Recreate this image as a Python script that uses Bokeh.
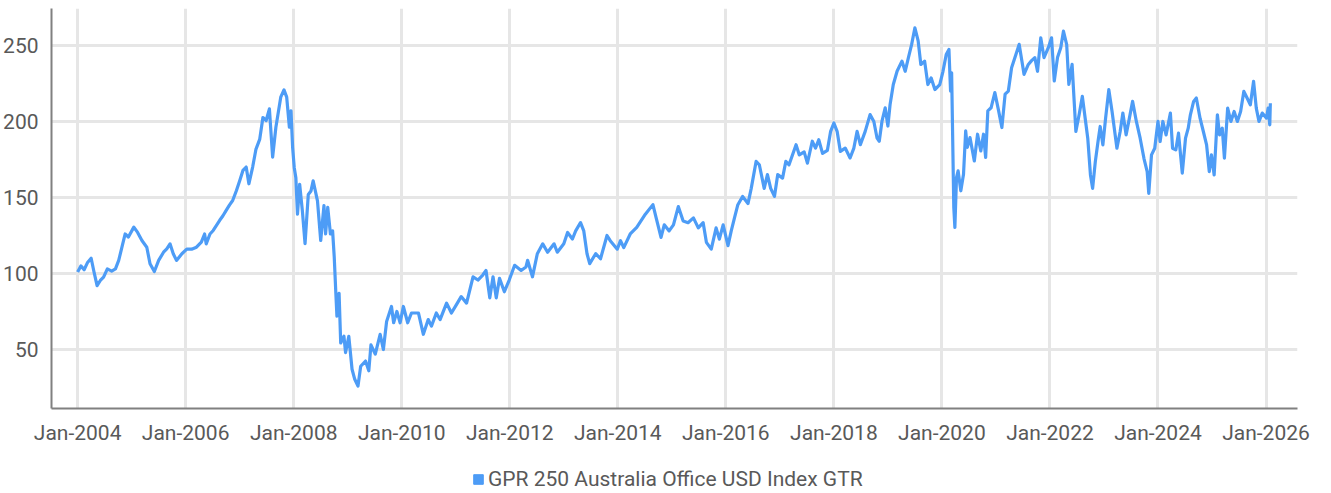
from bokeh.plotting import figure
from bokeh.layouts import column
from bokeh.models import Range1d, FixedTicker, Legend, LegendItem
from bokeh.embed import file_html
from bokeh.resources import INLINE

series_name = "GPR 250 Australia Office USD Index GTR"

years = [
    2004.00, 2004.06, 2004.12, 2004.18, 2004.25, 2004.30, 2004.36, 2004.42, 2004.48, 2004.55,
    2004.63, 2004.70, 2004.76, 2004.82, 2004.88, 2004.94, 2005.04, 2005.11, 2005.19, 2005.28,
    2005.34, 2005.42, 2005.50, 2005.59, 2005.65, 2005.71, 2005.77, 2005.83, 2005.93, 2006.02,
    2006.11, 2006.20, 2006.29, 2006.35, 2006.38, 2006.45, 2006.51, 2006.57, 2006.63, 2006.69,
    2006.75, 2006.81, 2006.87, 2006.94, 2007.00, 2007.06, 2007.12, 2007.17, 2007.24, 2007.30,
    2007.37, 2007.43, 2007.49, 2007.55, 2007.61, 2007.67, 2007.76, 2007.82, 2007.87, 2007.92,
    2007.95, 2007.98, 2008.01, 2008.04, 2008.07, 2008.11, 2008.16, 2008.21, 2008.27, 2008.32,
    2008.36, 2008.44, 2008.50, 2008.56, 2008.59, 2008.63, 2008.68, 2008.72, 2008.75, 2008.78,
    2008.80, 2008.84, 2008.87, 2008.93, 2008.96, 2009.02, 2009.08, 2009.13, 2009.19, 2009.24,
    2009.33, 2009.39, 2009.43, 2009.51, 2009.60, 2009.66, 2009.72, 2009.81, 2009.85, 2009.91,
    2009.97, 2010.03, 2010.11, 2010.18, 2010.31, 2010.40, 2010.49, 2010.55, 2010.64, 2010.71,
    2010.83, 2010.92, 2011.01, 2011.10, 2011.20, 2011.32, 2011.41, 2011.50, 2011.56, 2011.63,
    2011.69, 2011.75, 2011.81, 2011.90, 2011.99, 2012.09, 2012.21, 2012.30, 2012.33, 2012.42,
    2012.51, 2012.61, 2012.70, 2012.82, 2012.88, 2013.00, 2013.07, 2013.16, 2013.22, 2013.31,
    2013.37, 2013.43, 2013.48, 2013.59, 2013.68, 2013.80, 2013.86, 2013.99, 2014.05, 2014.11,
    2014.23, 2014.35, 2014.51, 2014.65, 2014.71, 2014.80, 2014.86, 2014.95, 2015.03, 2015.12,
    2015.21, 2015.30, 2015.40, 2015.49, 2015.58, 2015.64, 2015.73, 2015.82, 2015.88, 2015.95,
    2016.04, 2016.10, 2016.16, 2016.22, 2016.31, 2016.41, 2016.47, 2016.56, 2016.62, 2016.71,
    2016.77, 2016.83, 2016.90, 2016.96, 2017.05, 2017.11, 2017.17, 2017.30, 2017.36, 2017.45,
    2017.51, 2017.60, 2017.66, 2017.72, 2017.79, 2017.88, 2017.94, 2018.00, 2018.06, 2018.12,
    2018.21, 2018.30, 2018.37, 2018.43, 2018.49, 2018.58, 2018.67, 2018.74, 2018.80, 2018.84,
    2018.89, 2018.95, 2019.00, 2019.04, 2019.10, 2019.17, 2019.26, 2019.32, 2019.38, 2019.44,
    2019.50, 2019.56, 2019.61, 2019.68, 2019.74, 2019.80, 2019.87, 2019.96, 2020.02, 2020.08,
    2020.13, 2020.16, 2020.18, 2020.22, 2020.24, 2020.27, 2020.30, 2020.35, 2020.40, 2020.44,
    2020.47, 2020.52, 2020.60, 2020.66, 2020.72, 2020.77, 2020.81, 2020.85, 2020.91, 2020.98,
    2021.05, 2021.11, 2021.17, 2021.23, 2021.29, 2021.37, 2021.43, 2021.48, 2021.52, 2021.60,
    2021.66, 2021.72, 2021.77, 2021.83, 2021.89, 2021.97, 2022.03, 2022.08, 2022.14, 2022.20,
    2022.25, 2022.31, 2022.35, 2022.41, 2022.48, 2022.54, 2022.60, 2022.66, 2022.70, 2022.75,
    2022.79, 2022.84, 2022.89, 2022.93, 2022.98, 2023.03, 2023.09, 2023.15, 2023.24, 2023.30,
    2023.35, 2023.41, 2023.47, 2023.53, 2023.60, 2023.67, 2023.74, 2023.80, 2023.83, 2023.88,
    2023.94, 2024.00, 2024.04, 2024.09, 2024.15, 2024.23, 2024.27, 2024.33, 2024.38, 2024.45,
    2024.51, 2024.56, 2024.60, 2024.66, 2024.71, 2024.78, 2024.84, 2024.90, 2024.95, 2024.99,
    2025.04, 2025.10, 2025.14, 2025.19, 2025.23, 2025.29, 2025.35, 2025.41, 2025.47, 2025.53,
    2025.59, 2025.65, 2025.71, 2025.77, 2025.82, 2025.87, 2025.93, 2026.01, 2026.04, 2026.07,
    2026.08,
]

index_values = [
    101.0, 105.0, 102.5, 107.0, 110.0, 101.5, 92.0, 95.4, 97.6, 103.0,
    101.6, 103.0, 108.6, 117.3, 126.0, 124.0, 130.5, 127.0, 121.7, 117.3,
    106.4, 101.3, 108.6, 114.0, 116.2, 119.5, 113.0, 108.6, 113.0, 116.0,
    116.0, 117.3, 120.6, 126.0, 119.5, 126.0, 128.3, 131.6, 135.0, 138.0,
    141.5, 145.0, 148.0, 154.6, 161.0, 167.8, 170.0, 159.0, 170.0, 181.6,
    188.2, 202.6, 200.6, 208.3, 176.5, 196.2, 216.0, 220.8, 216.0, 196.2,
    207.0, 183.0, 169.6, 163.0, 139.0, 158.7, 141.3, 119.6, 152.0, 154.3,
    161.0, 147.8, 121.7, 144.6, 126.0, 143.5, 126.0, 128.0, 111.0, 87.0,
    72.0, 87.0, 54.3, 58.7, 48.0, 58.7, 37.0, 30.4, 26.0, 39.0,
    42.4, 36.0, 53.0, 47.0, 60.0, 50.0, 68.5, 78.3, 67.6, 75.0,
    67.6, 78.3, 67.6, 74.0, 74.0, 60.0, 69.7, 65.4, 74.0, 69.7,
    80.5, 74.0, 79.4, 84.8, 80.5, 97.8, 95.7, 99.0, 102.0, 84.0,
    97.8, 84.0, 96.8, 88.0, 95.7, 105.4, 102.0, 104.3, 108.7, 97.8,
    113.0, 119.5, 114.0, 119.5, 114.0, 119.5, 127.0, 122.7, 128.0, 133.5,
    128.0, 113.0, 106.5, 113.0, 109.7, 125.0, 121.6, 116.0, 121.6, 117.0,
    126.0, 130.3, 139.0, 145.3, 136.6, 123.7, 132.0, 128.0, 132.0, 144.0,
    134.5, 133.4, 136.6, 130.0, 133.4, 120.5, 116.0, 130.0, 122.6, 132.0,
    118.3, 128.0, 136.6, 145.0, 150.7, 146.0, 156.0, 173.7, 171.5, 156.0,
    165.0, 156.0, 150.7, 165.0, 162.7, 173.7, 171.5, 184.7, 178.0, 180.0,
    172.6, 187.0, 182.5, 188.0, 179.0, 181.0, 193.5, 199.0, 193.5, 180.3,
    182.5, 176.0, 182.5, 193.5, 184.7, 193.5, 204.5, 200.0, 189.0, 187.0,
    200.0, 209.0, 197.0, 211.0, 224.3, 233.0, 239.7, 233.0, 242.0, 250.7,
    261.6, 253.0, 237.5, 239.7, 224.3, 228.7, 221.0, 224.3, 233.0, 244.0,
    247.4, 220.0, 232.0, 143.4, 130.3, 163.0, 167.5, 154.4, 165.3, 193.8,
    183.0, 189.4, 174.0, 191.6, 180.6, 191.6, 176.3, 207.0, 209.0, 219.0,
    207.0, 196.0, 218.0, 220.0, 235.3, 244.0, 250.7, 240.0, 231.0, 237.5,
    240.0, 242.0, 233.0, 255.0, 242.0, 248.5, 255.0, 226.6, 242.0, 248.5,
    259.4, 250.6, 224.4, 237.5, 193.4, 204.4, 216.5, 200.0, 189.0, 164.8,
    156.0, 173.6, 186.8, 196.7, 184.6, 202.0, 220.9, 206.6, 182.4, 193.4,
    205.5, 191.2, 202.0, 213.2, 200.0, 189.0, 175.8, 167.0, 152.7, 178.0,
    182.4, 200.0, 186.8, 200.0, 191.2, 205.5, 182.4, 181.3, 192.3, 166.0,
    189.0, 195.6, 204.4, 213.2, 215.4, 202.0, 193.4, 184.6, 167.0, 178.0,
    164.8, 204.4, 191.2, 195.6, 175.8, 208.8, 200.0, 206.6, 200.0, 206.6,
    219.8, 215.4, 211.0, 226.4, 208.8, 200.0, 205.5, 202.2, 208.8, 197.8,
    212.0,
]

x_tick_years = [2004, 2006, 2008, 2010, 2012, 2014, 2016, 2018, 2020, 2022, 2024, 2026]
x_tick_labels = ["Jan-2004", "Jan-2006", "Jan-2008", "Jan-2010", "Jan-2012", "Jan-2014",
                 "Jan-2016", "Jan-2018", "Jan-2020", "Jan-2022", "Jan-2024", "Jan-2026"]
y_ticks = [50, 100, 150, 200, 250]

LINE_COLOR = "#4d9cf6"
TEXT_COLOR = "#595959"
FONT = "Roboto"

# ---- main chart ----
p = figure(width=1315, height=448, output_backend="svg", toolbar_location=None,
           x_range=Range1d(2003.516, 2026.583), y_range=Range1d(11.2, 274.3),
           min_border_left=43, min_border_right=18, min_border_top=8, min_border_bottom=40)
p.outline_line_color = None

p.line(years, index_values, line_color=LINE_COLOR, line_width=3.2, line_join="round")

p.xaxis.ticker = FixedTicker(ticks=x_tick_years)
p.xaxis.major_label_overrides = {yr: lab for yr, lab in zip(x_tick_years, x_tick_labels)}
p.yaxis.ticker = FixedTicker(ticks=y_ticks)

for ax in (p.xaxis, p.yaxis):
    ax.axis_line_color = "#808080"
    ax.axis_line_width = 2
    ax.major_tick_line_color = None
    ax.minor_tick_line_color = None
    ax.major_label_text_font = FONT
    ax.major_label_text_font_size = "21px"
    ax.major_label_text_color = TEXT_COLOR
p.xaxis.major_label_standoff = 6
p.yaxis.major_label_standoff = 7

p.xgrid.grid_line_color = "#e6e6e6"
p.xgrid.grid_line_width = 3
p.ygrid.grid_line_color = "#e6e6e6"
p.ygrid.grid_line_width = 3

# ---- legend strip below the chart ----
lg = figure(width=1315, height=43, output_backend="svg", toolbar_location=None,
            x_range=Range1d(0, 1), y_range=Range1d(0, 1),
            x_axis_type=None, y_axis_type=None,
            min_border_left=0, min_border_right=0, min_border_top=0, min_border_bottom=0)
lg.outline_line_color = None
lg.xgrid.visible = False
lg.ygrid.visible = False
swatch = lg.quad(left=[-3.0], right=[-2.0], top=[-2.0], bottom=[-3.0],
                 fill_color=LINE_COLOR, line_color=LINE_COLOR)
legend = Legend(items=[LegendItem(label=series_name, renderers=[swatch])],
                orientation="horizontal", location=(421, 0),
                glyph_width=12, glyph_height=12, label_standoff=4, padding=0, margin=0,
                label_text_font=FONT, label_text_font_size="21px", label_text_color=TEXT_COLOR,
                border_line_alpha=0, background_fill_alpha=0)
lg.add_layout(legend, "center")

layout = column(p, lg, spacing=0)

open("out.html", "w").write(file_html(layout, INLINE))
